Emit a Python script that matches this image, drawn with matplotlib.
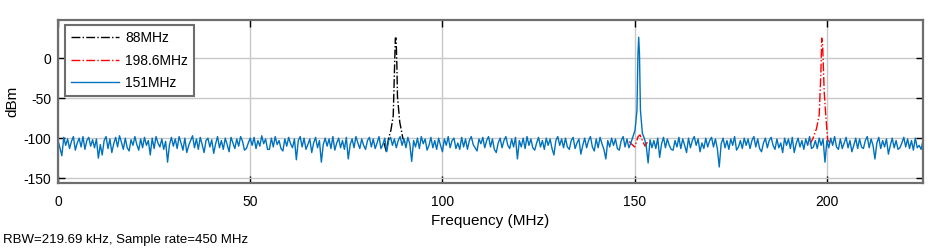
import numpy as np
import matplotlib
matplotlib.use('Agg')
import matplotlib.pyplot as plt

plt.rcParams['font.family'] = ['Liberation Sans', 'DejaVu Sans']
plt.rcParams['axes.unicode_minus'] = False

# blue trace (151MHz), noise floor every 0.5 MHz from 0 to 225 MHz
blue_step = 0.5
blue_noise = [
    -103, -112, -122, -99, -109, -101, -113, -104, -98, -115, -106, -100, -111, -98, -114, -103, -99, -110, -102, -112,
    -101, -125, -108, -121, -103, -98, -113, -101, -118, -107, -99, -111, -97, -105, -114, -100, -112, -116, -102, -109,
    -98, -108, -115, -101, -112, -99, -109, -103, -121, -100, -113, -98, -106, -111, -101, -114, -104, -130, -108, -99,
    -110, -101, -113, -98, -106, -115, -100, -118, -109, -103, -97, -112, -101, -114, -99, -108, -118, -103, -100, -111,
    -102, -119, -107, -98, -112, -103, -114, -100, -108, -117, -99, -106, -113, -101, -110, -98, -104, -115, -113, -106,
    -100, -109, -99, -113, -103, -110, -97, -107, -101, -114, -114, -100, -111, -98, -108, -103, -113, -116, -101, -110,
    -99, -107, -112, -101, -127, -103, -98, -111, -100, -114, -108, -101, -118, -106, -99, -112, -103, -130, -108, -100,
    -110, -101, -113, -98, -115, -106, -100, -112, -103, -114, -99, -126, -108, -101, -112, -98, -106, -113, -101, -109,
    -114, -103, -99, -111, -101, -113, -106, -98, -113, -108, -100, -117, -103, -99, -109, -101, -112, -103, -98, -109,
    -101, -112, -99, -107, -129, -103, -111, -100, -113, -98, -107, -101, -115, -109, -99, -112, -103, -114, -100, -109,
    -117, -101, -109, -98, -112, -103, -100, -113, -106, -114, -99, -111, -101, -114, -103, -98, -108, -112, -116, -101,
    -107, -99, -112, -103, -98, -111, -101, -114, -118, -106, -100, -112, -103, -98, -109, -113, -101, -111, -99, -126,
    -103, -111, -100, -113, -98, -109, -101, -112, -115, -106, -99, -111, -103, -114, -100, -109, -101, -113, -121, -103,
    -98, -109, -101, -112, -100, -111, -114, -103, -99, -113, -106, -101, -120, -109, -100, -112, -103, -98, -111, -116,
    -101, -112, -99, -107, -114, -126, -103, -111, -100, -109, -101, -113, -115, -103, -98, -111, -101, -112, -106, -99,
    -100, -100, -100, -100, -100, -100, -109, -131, -102, -112, -103, -113, -100, -124, -107, -99, -112, -101, -109, -114,
    -115, -103, -111, -99, -113, -101, -109, -118, -100, -112, -103, -98, -109, -101, -117, -106, -113, -100, -111, -103,
    -99, -111, -101, -113, -136, -107, -100, -112, -103, -114, -101, -109, -98, -115, -111, -103, -113, -100, -109, -101,
    -113, -103, -98, -111, -101, -113, -117, -106, -100, -112, -103, -99, -109, -114, -101, -112, -106, -118, -100, -109,
    -101, -113, -99, -118, -107, -100, -111, -103, -114, -101, -109, -98, -113, -111, -103, -113, -100, -109, -101, -130,
    -103, -112, -100, -109, -98, -111, -114, -101, -113, -106, -99, -112, -103, -117, -109, -100, -113, -101, -111, -113,
    -103, -98, -112, -101, -109, -126, -106, -99, -113, -103, -111, -101, -120, -109, -100, -112, -103, -114, -112, -106,
    -99, -111, -101, -113, -103, -115, -100, -112, -109, -114, -103,
]
blue_peak_freq = [149.7, 150.1, 150.6, 150.85, 151.05, 151.25, 151.5, 152.0, 152.5]
blue_peak_dbm = [-96, -90, -65, 5, 26, 5, -65, -94, -100]

# black trace (88MHz), only the part that shows above the blue trace
black_freq = [84.8, 85.4, 86.0, 86.6, 87.2, 87.75, 87.95, 88.15, 88.3, 88.9, 89.7, 90.3]
black_dbm = [-106, -117, -100, -90, -72, 25, 25, -10, -48, -80, -100, -106]

# red trace (198.6MHz), image near 150 MHz and the main peak
red_img_freq = [148.6, 149.1, 150.0, 150.9, 151.4, 152.1, 152.7, 153.3]
red_img_dbm = [-104, -107, -111, -98, -96, -104, -110, -105]
red_freq = [195.6, 196.4, 197.3, 198.0, 198.45, 198.65, 198.9, 199.3, 199.7, 200.2, 200.8]
red_dbm = [-108, -100, -88, -71, -17, 25, 15, -42, -71, -102, -106]

labels = ['88MHz', '198.6MHz', '151MHz']
info_text = 'RBW=219.69 kHz, Sample rate=450 MHz'


def blue_trace():
    f = np.arange(len(blue_noise)) * blue_step
    d = np.array(blue_noise, dtype=float)
    keep = (f < 149.6) | (f > 152.6)
    f = np.concatenate([f[keep], blue_peak_freq])
    d = np.concatenate([d[keep], blue_peak_dbm])
    order = np.argsort(f)
    return f[order], d[order]


def main():
    fig = plt.figure(figsize=(9.44, 2.48), dpi=100)
    ax = fig.add_axes([58 / 944, 65 / 248, 865 / 944, 163 / 248])

    ax.plot(black_freq, black_dbm, '-.', color='k', lw=1, label=labels[0])
    ax.plot(red_img_freq, red_img_dbm, '-.', color='#ff0000', lw=1)
    ax.plot(red_freq, red_dbm, '-.', color='#ff0000', lw=1, label=labels[1])
    bf, bd = blue_trace()
    ax.plot(bf, bd, '-', color='#0072bd', lw=1, label=labels[2])

    ax.set_xlim(0, 225)
    ax.set_ylim(-156, 47.5)
    ax.set_xticks([0, 50, 100, 150, 200])
    ax.set_yticks([-150, -100, -50, 0])
    ax.grid(True, color='#c8c8c8', lw=1)
    ax.set_axisbelow(True)
    ax.tick_params(direction='in', length=5, width=1, color='k',
                   top=True, right=True, labelsize=10)
    ax.tick_params(axis='x', pad=9)
    ax.tick_params(axis='y', pad=5)
    for sp in ax.spines.values():
        sp.set_color('#6e6e6e')
        sp.set_linewidth(1.6)

    ax.set_xlabel('Frequency (MHz)', fontsize=11, labelpad=3)
    ax.set_ylabel('dBm', fontsize=11, labelpad=3)

    leg = ax.legend(loc='upper left', bbox_to_anchor=(0.008, 0.969), borderaxespad=0,
                    fontsize=10, handlelength=3.45, handletextpad=0.45,
                    labelspacing=0.6, borderpad=0.45, fancybox=False,
                    framealpha=1, edgecolor='#6e6e6e')
    leg.get_frame().set_linewidth(1.5)

    fig.text(3 / 944, 1 - 240 / 248, info_text, fontsize=9.5, va='center', ha='left')

    fig.savefig('out.png', dpi=100)


if __name__ == '__main__':
    main()
